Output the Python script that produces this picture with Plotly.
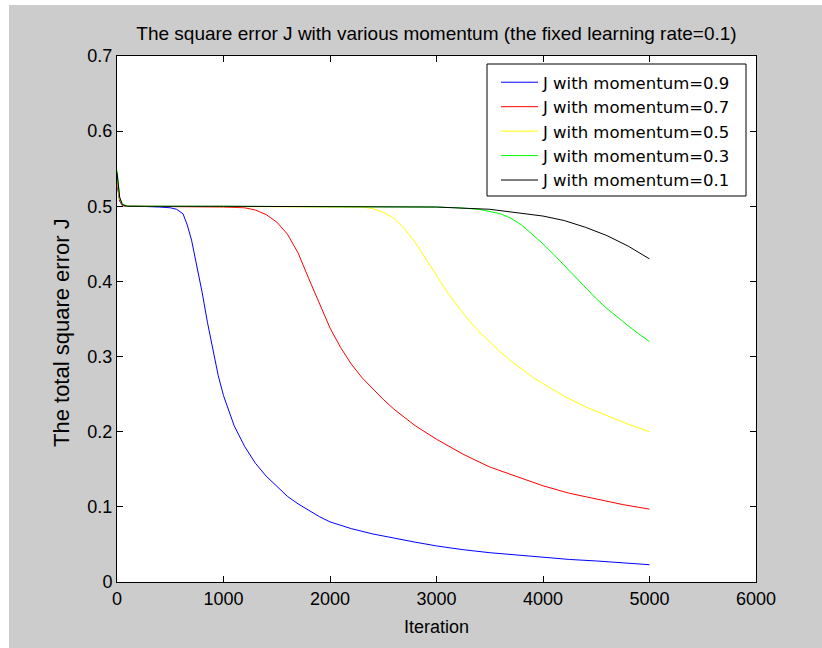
import plotly.graph_objects as go

# ---- data ----
iter_m09 = [0, 10, 25, 50, 100, 200, 300, 400, 500, 560, 620, 660, 700, 750, 800, 850, 900, 950, 1000,
            1100, 1200, 1300, 1400, 1500, 1600, 1700, 1800, 1900, 2000, 2200, 2400, 2600, 2800, 3000,
            3250, 3500, 3750, 4000, 4250, 4500, 4750, 5000]
J_m09 = [0.530, 0.518, 0.507, 0.501, 0.500, 0.500, 0.500, 0.499, 0.498, 0.496, 0.490, 0.475, 0.455, 0.420,
         0.385, 0.345, 0.310, 0.275, 0.248, 0.208, 0.180, 0.158, 0.141, 0.127, 0.114, 0.104, 0.095,
         0.087, 0.080, 0.071, 0.064, 0.058, 0.053, 0.048, 0.043, 0.039, 0.036, 0.033, 0.030, 0.028,
         0.025, 0.023]

iter_m07 = [0, 10, 25, 50, 100, 500, 1000, 1200, 1300, 1400, 1500, 1600, 1700, 1800, 1900, 2000, 2100,
            2200, 2300, 2400, 2500, 2600, 2800, 3000, 3250, 3500, 3750, 4000, 4250, 4500, 4750, 5000]
J_m07 = [0.540, 0.522, 0.508, 0.501, 0.500, 0.500, 0.499, 0.498, 0.495, 0.489, 0.479, 0.463, 0.438, 0.404,
         0.370, 0.338, 0.312, 0.290, 0.272, 0.257, 0.243, 0.230, 0.208, 0.190, 0.170, 0.153, 0.140,
         0.128, 0.118, 0.110, 0.103, 0.097]

iter_m05 = [0, 10, 25, 50, 100, 1000, 2000, 2300, 2400, 2500, 2600, 2700, 2800, 2900, 3000, 3100, 3200,
            3300, 3400, 3500, 3600, 3700, 3800, 3900, 4000, 4200, 4400, 4600, 4800, 5000]
J_m05 = [0.545, 0.525, 0.510, 0.502, 0.500, 0.500, 0.500, 0.499, 0.497, 0.492, 0.484, 0.470, 0.452, 0.430,
         0.407, 0.386, 0.367, 0.349, 0.333, 0.319, 0.306, 0.294, 0.283, 0.273, 0.264, 0.247, 0.233,
         0.221, 0.210, 0.200]

iter_m03 = [0, 10, 25, 50, 100, 1000, 2000, 3000, 3200, 3400, 3600, 3700, 3800, 3900, 4000, 4100, 4200,
            4300, 4400, 4500, 4600, 4700, 4800, 4900, 5000]
J_m03 = [0.548, 0.528, 0.512, 0.503, 0.500, 0.500, 0.500, 0.499, 0.498, 0.496, 0.490, 0.484, 0.475, 0.463,
         0.450, 0.436, 0.421, 0.406, 0.391, 0.377, 0.364, 0.352, 0.341, 0.330, 0.320]

iter_m01 = [0, 10, 25, 50, 100, 1000, 2000, 3000, 3500, 3800, 4000, 4200, 4400, 4600, 4800, 5000]
J_m01 = [0.545, 0.530, 0.512, 0.502, 0.500, 0.500, 0.500, 0.499, 0.496, 0.491, 0.487, 0.481, 0.472,
         0.461, 0.447, 0.430]

series = [
    ("J with momentum=0.9", iter_m09, J_m09, "#0000ff"),
    ("J with momentum=0.7", iter_m07, J_m07, "#ff0000"),
    ("J with momentum=0.5", iter_m05, J_m05, "#ffff00"),
    ("J with momentum=0.3", iter_m03, J_m03, "#00ff00"),
    ("J with momentum=0.1", iter_m01, J_m01, "#000000"),
]

x_ticks = [0, 1000, 2000, 3000, 4000, 5000, 6000]
y_ticks = [0, 0.1, 0.2, 0.3, 0.4, 0.5, 0.6, 0.7]

FONT = "Liberation Sans, Arial, sans-serif"
FONT2 = "DejaVu Sans, Liberation Sans, sans-serif"
W, H = 822, 648
L, R, T, B = 117, 66, 56, 66
pw, ph = W - L - R, H - T - B

fig = go.Figure()
for name, xs, ys, col in series:
    fig.add_trace(go.Scatter(x=xs, y=ys, mode="lines", name=name,
                             line=dict(color=col, width=1)))

def px_x(p):
    return (p - L) / pw

def px_y(p):
    return (H - B - p) / ph

fig.update_layout(
    width=W, height=H,
    margin=dict(l=L, r=R, t=T, b=B),
    paper_bgcolor="#cccccc",
    plot_bgcolor="#ffffff",
    font=dict(family=FONT, color="#000000", size=18),
    title=dict(text="The square error J with various momentum (the fixed learning rate=0.1)",
               x=(L + pw / 2) / W, xanchor="center", y=1 - 33 / H, yanchor="middle",
               font=dict(size=19, family=FONT, color="#000000")),
    showlegend=True,
    legend=dict(x=px_x(496), xanchor="left", y=px_y(65), yanchor="top",
                bgcolor="rgba(0,0,0,0)", borderwidth=0,
                font=dict(size=16.5, family=FONT2, color="#000000"),
                itemwidth=37, tracegroupgap=0),
    shapes=[
        dict(type="rect", xref="paper", yref="paper", layer="below",
             x0=px_x(0), x1=px_x(W), y0=px_y(0), y1=px_y(5),
             fillcolor="#ffffff", line=dict(width=0)),
        dict(type="rect", xref="paper", yref="paper", layer="below",
             x0=px_x(0), x1=px_x(9), y0=px_y(0), y1=px_y(H),
             fillcolor="#ffffff", line=dict(width=0)),
        # legend frame
        dict(type="rect", xref="paper", yref="paper", layer="above",
             x0=px_x(487), x1=px_x(746), y0=px_y(196), y1=px_y(64),
             fillcolor="#ffffff", line=dict(width=1, color="#000000")),
    ],
    annotations=[
        dict(text="The total square error J", xref="paper", yref="paper",
             x=px_x(61), y=px_y(333), xanchor="center", yanchor="middle",
             textangle=-90, showarrow=False,
             font=dict(size=22, family=FONT, color="#000000")),
    ],
)

fig.update_xaxes(range=[0, 6000], tickvals=x_ticks, ticktext=[str(v) for v in x_ticks],
                 ticks="inside", ticklen=6, tickcolor="#000000", tickwidth=1,
                 showline=True, linecolor="#000000", linewidth=1, mirror="ticks",
                 showgrid=False, zeroline=False,
                 tickfont=dict(size=18, family=FONT, color="#000000"),
                 title=dict(text="Iteration", font=dict(size=18, family=FONT, color="#000000"),
                            standoff=12))
fig.update_yaxes(range=[0, 0.7], tickvals=y_ticks, ticktext=[("0" if v == 0 else f"{v:.1f}") for v in y_ticks],
                 ticks="inside", ticklen=6, tickcolor="#000000", tickwidth=1,
                 showline=True, linecolor="#000000", linewidth=1, mirror="ticks",
                 showgrid=False, zeroline=False,
                 tickfont=dict(size=18, family=FONT, color="#000000"))

fig.write_html("out.html")
